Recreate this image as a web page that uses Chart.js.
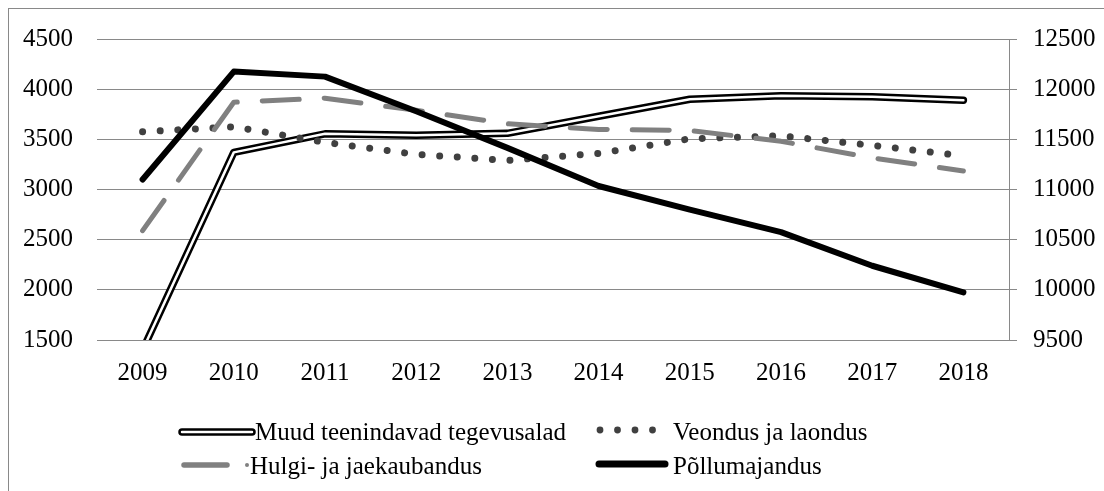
<!DOCTYPE html>
<html>
<head>
<meta charset="utf-8">
<script src="https://cdn.jsdelivr.net/npm/chart.js@4"></script>
<style>
    html, body { margin: 0; padding: 0; background: #fff; }
    #wrap { width: 1104px; height: 491px; }
</style>
</head>
<body>
<div id="wrap"><canvas id="tegevusaladChart" width="1104" height="491"></canvas></div>
<script>
// Data
const years = ['2009', '2010', '2011', '2012', '2013', '2014', '2015', '2016', '2017', '2018'];
const muudTeenindavad = [1400, 3370, 3555, 3540, 3560, 3730, 3900, 3935, 3925, 3890];
const veondusLaondus = [3575, 3625, 3470, 3350, 3290, 3360, 3505, 3535, 3440, 3335];
const hulgiJaekaubandus = [2590, 3870, 3910, 3790, 3655, 3598, 3588, 3480, 3315, 3185];
const pollumajandus = [11100, 12175, 12125, 11780, 11415, 11035, 10800, 10575, 10240, 9975];

const leftTicks = [1500, 4500, 500];
const rightTicks = [9500, 12500, 500];

const GRID = '#898989';
const FONT = '"Liberation Serif", "Times New Roman", serif';

Chart.defaults.font.family = FONT;
Chart.defaults.font.size = 25;
Chart.defaults.color = '#000';

// Outer frame + legend, drawn on the canvas
const frameAndLegend = {
    id: 'frameAndLegend',
    beforeDraw(chart) {
        const c = chart.ctx;
        c.save();
        c.fillStyle = '#fff';
        c.fillRect(0, 0, chart.width, chart.height);
        c.strokeStyle = GRID;
        c.lineWidth = 1;
        c.strokeRect(8.5, 8.5, 1300, 700);
        c.restore();
    },
    afterDraw(chart) {
        const c = chart.ctx;
        c.save();
        c.lineCap = 'round';

        // Muud teenindavad tegevusalad (double line)
        c.strokeStyle = '#000';
        c.lineWidth = 7.5;
        c.beginPath(); c.moveTo(182, 432); c.lineTo(252, 432); c.stroke();
        c.strokeStyle = '#fff';
        c.lineWidth = 2.5;
        c.beginPath(); c.moveTo(182, 432); c.lineTo(252, 432); c.stroke();

        // Veondus ja laondus (dots)
        c.fillStyle = '#404040';
        [600, 617.5, 635, 652.5].forEach(x => {
            c.beginPath(); c.arc(x, 430, 3.4, 0, Math.PI * 2); c.fill();
        });

        // Hulgi- ja jaekaubandus (dash + dot)
        c.strokeStyle = '#808080';
        c.lineWidth = 5.5;
        c.beginPath(); c.moveTo(184, 465); c.lineTo(227, 465); c.stroke();
        c.fillStyle = '#808080';
        c.beginPath(); c.arc(247, 465, 2, 0, Math.PI * 2); c.fill();

        // Põllumajandus (thick black)
        c.strokeStyle = '#000';
        c.lineWidth = 7;
        c.beginPath(); c.moveTo(599, 464); c.lineTo(665, 464); c.stroke();

        c.fillStyle = '#000';
        c.font = '25px ' + FONT;
        c.textBaseline = 'alphabetic';
        c.fillText('Muud teenindavad tegevusalad', 255, 440);
        c.fillText('Veondus ja laondus', 673, 440);
        c.fillText('Hulgi- ja jaekaubandus', 250, 474);
        c.fillText('Põllumajandus', 673, 474);
        c.restore();
    }
};

const plainNumber = value => String(value);

const ctx = document.getElementById('tegevusaladChart').getContext('2d');

new Chart(ctx, {
    type: 'line',
    data: {
        labels: years,
        datasets: [
            {
                label: 'Põllumajandus',
                data: pollumajandus,
                yAxisID: 'y1',
                borderColor: '#000',
                borderWidth: 6,
                borderCapStyle: 'round',
                borderJoinStyle: 'round',
                pointRadius: 0,
                tension: 0,
                order: 0
            },
            {
                label: 'Hulgi- ja jaekaubandus',
                data: hulgiJaekaubandus,
                yAxisID: 'y',
                borderColor: '#808080',
                borderWidth: 5,
                borderDash: [37, 25],
                borderCapStyle: 'round',
                borderJoinStyle: 'round',
                pointRadius: 0,
                tension: 0,
                order: 1
            },
            {
                label: 'Veondus ja laondus',
                data: veondusLaondus,
                yAxisID: 'y',
                borderColor: '#404040',
                borderWidth: 7,
                borderDash: [0.01, 17.6],
                borderCapStyle: 'round',
                pointRadius: 0,
                tension: 0,
                order: 2
            },
            {
                // inner white stroke of the double line
                label: 'muud-inner',
                data: muudTeenindavad,
                yAxisID: 'y',
                borderColor: '#fff',
                borderWidth: 2.5,
                borderCapStyle: 'round',
                borderJoinStyle: 'round',
                pointRadius: 0,
                tension: 0,
                clip: 0,
                order: 3
            },
            {
                label: 'Muud teenindavad tegevusalad',
                data: muudTeenindavad,
                yAxisID: 'y',
                borderColor: '#000',
                borderWidth: 7.5,
                borderCapStyle: 'round',
                borderJoinStyle: 'round',
                pointRadius: 0,
                tension: 0,
                clip: 0,
                order: 4
            }
        ]
    },
    options: {
        responsive: false,
        animation: false,
        devicePixelRatio: 1,
        layout: { padding: { top: 35, left: 0, right: 0, bottom: 0 } },
        plugins: {
            legend: { display: false },
            tooltip: { enabled: false }
        },
        scales: {
            x: {
                offset: true,
                grid: { display: false },
                border: { display: false },
                ticks: { padding: 10, maxRotation: 0 },
                afterFit(scale) { scale.height = 151; }
            },
            y: {
                position: 'left',
                min: leftTicks[0],
                max: leftTicks[1],
                ticks: { stepSize: leftTicks[2], padding: 24, callback: plainNumber },
                grid: { color: GRID, lineWidth: 1, drawTicks: false },
                border: { display: false },
                afterFit(scale) { scale.width = 97; }
            },
            y1: {
                position: 'right',
                min: rightTicks[0],
                max: rightTicks[1],
                ticks: { stepSize: rightTicks[2], padding: 16, callback: plainNumber },
                grid: { drawOnChartArea: false, color: GRID, tickLength: 8, lineWidth: 1 },
                border: { display: true, color: GRID, width: 1 },
                afterFit(scale) { scale.width = 95; }
            }
        }
    },
    plugins: [frameAndLegend]
});
</script>
</body>
</html>
